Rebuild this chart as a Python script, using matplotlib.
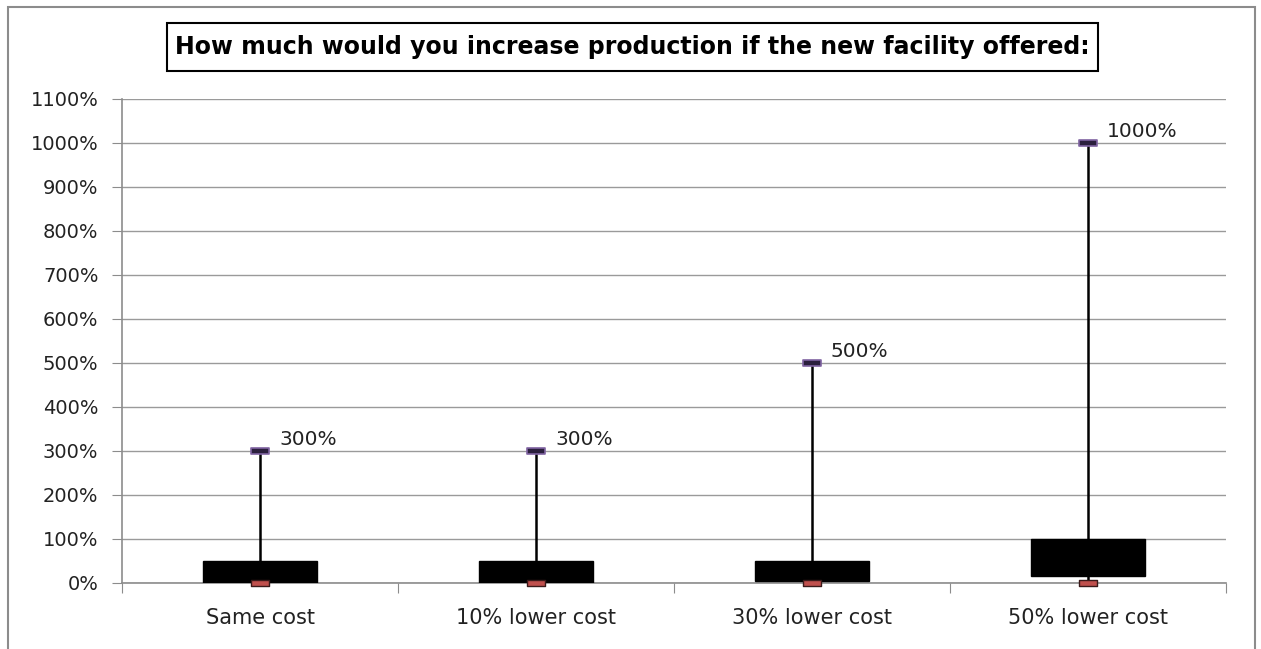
import matplotlib
matplotlib.use('Agg')
import matplotlib.pyplot as plt
from matplotlib.patches import Rectangle
from matplotlib.path import Path
import numpy as np

# survey answers per scenario, in units of 100%
categories = ['Same cost', '10% lower cost', '30% lower cost', '50% lower cost']
low = [0, 0, 0, 0]
q1 = [0, 0, 0.05, 0.15]
q3 = [0.5, 0.5, 0.5, 1.0]
high = [3, 3, 5, 10]
high_labels = ['300%', '300%', '500%', '1000%']

title = 'How much would you increase production if the new facility offered:'

plt.rcParams['font.family'] = 'DejaVu Sans'

W, H = 1261, 649
fig = plt.figure(figsize=(W / 100, H / 100), dpi=100)
ax = fig.add_axes([122 / W, 1 - 583 / H, 1104 / W, 484 / H])

# outer chart frame
fig.patches.append(Rectangle((8 / W, -0.05), 1247 / W, 1.05 - 7 / H,
                             transform=fig.transFigure, fill=False,
                             edgecolor='#8c8c8c', lw=1.5))
# title frame
fig.patches.append(Rectangle((167 / W, 1 - 71 / H), 931 / W, 48 / H,
                             transform=fig.transFigure, facecolor='white',
                             edgecolor='black', lw=1.5))

x = np.arange(len(categories)) + 0.5

# whiskers
ax.vlines(x, low, high, color='black', lw=1.8, zorder=2)
# boxes
ax.bar(x, np.array(q3) - np.array(q1), bottom=q1, width=0.41,
       color='black', edgecolor='black', lw=1, zorder=3)

# flat rectangle marker for max / min
flat = Path([(-1, -0.3), (1, -0.3), (1, 0.3), (-1, 0.3), (-1, -0.3)],
            [Path.MOVETO, Path.LINETO, Path.LINETO, Path.LINETO, Path.CLOSEPOLY])
ax.plot(x, high, linestyle='none', marker=flat, markersize=13,
        markerfacecolor='#2b1f3d', markeredgecolor='#8064a2', mew=1.2,
        zorder=4, clip_on=False)
ax.plot(x, low, linestyle='none', marker=flat, markersize=13,
        markerfacecolor='#c0504d', markeredgecolor='#3a1a1a', mew=1,
        zorder=4, clip_on=False)

for xi, h, lab in zip(x, high, high_labels):
    ax.annotate(lab, (xi, h), xytext=(19, 2), textcoords='offset pixels',
                fontsize=14.5, color='#222222', ha='left', va='bottom')

ax.set_xlim(0, 4)
ax.set_ylim(0, 11)
ax.set_yticks(np.arange(0, 12))
ax.set_yticklabels([f'{v * 100}%' for v in range(0, 12)], fontsize=14, color='#222222')
ax.yaxis.grid(True, color='#9a9a9a', lw=1)
ax.set_axisbelow(True)

ax.set_xticks(np.arange(0, 5))
ax.set_xticklabels([])
ax.set_xticks(x, minor=True)
ax.set_xticklabels(categories, minor=True, fontsize=15, color='#222222')
ax.tick_params(axis='x', which='major', length=7, color='#8c8c8c', direction='out')
ax.tick_params(axis='x', which='minor', length=0, pad=18)
ax.tick_params(axis='y', length=7, color='#8c8c8c', pad=10)

for s in ['top', 'right']:
    ax.spines[s].set_visible(False)
for s in ['left', 'bottom']:
    ax.spines[s].set_color('#8c8c8c')
    ax.spines[s].set_linewidth(1.2)

fig.text(632.5 / W, 1 - 47 / H, title, ha='center', va='center',
         fontsize=17, fontweight='bold')

fig.savefig('out.png', dpi=100)
